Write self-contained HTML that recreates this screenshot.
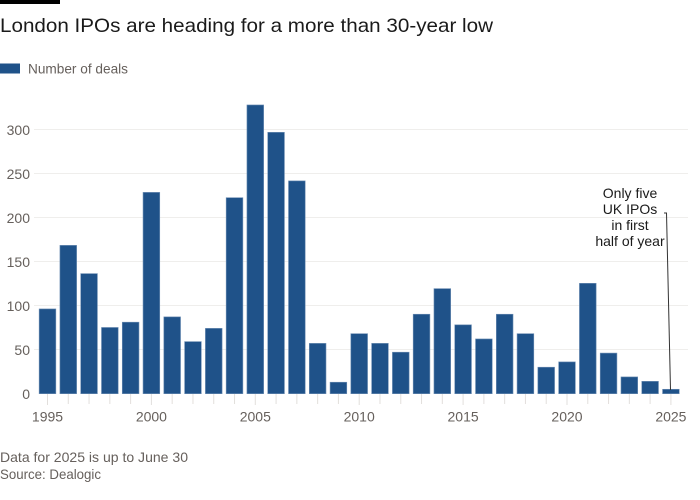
<!DOCTYPE html>
<html><head><meta charset="utf-8"><style>
html,body{margin:0;padding:0;background:#fff;}
svg{display:block;}
text{font-family:"Liberation Sans",sans-serif;}
</style></head><body>
<svg width="700" height="500" viewBox="0 0 700 500" xmlns="http://www.w3.org/2000/svg">
<rect x="0" y="0" width="60" height="4" fill="#000"/>
<text x="0" y="32" font-size="19.5" fill="#1a1a1a" textLength="493" lengthAdjust="spacingAndGlyphs">London IPOs are heading for a more than 30-year low</text>
<rect x="0" y="63.5" width="20" height="10" fill="#1f5289"/>
<text x="28" y="73.5" font-size="14" fill="#66605c" textLength="100" lengthAdjust="spacingAndGlyphs">Number of deals</text>
<g stroke="#efeeec" stroke-width="1">
<line x1="34" x2="688" y1="129.5" y2="129.5"/>
<line x1="34" x2="688" y1="173.5" y2="173.5"/>
<line x1="34" x2="688" y1="217.5" y2="217.5"/>
<line x1="34" x2="688" y1="261.5" y2="261.5"/>
<line x1="34" x2="688" y1="305.5" y2="305.5"/>
<line x1="34" x2="688" y1="349.5" y2="349.5"/>
</g>
<g font-size="14" fill="#66605c" text-anchor="end">
<text x="30" y="135">300</text>
<text x="30" y="179">250</text>
<text x="30" y="223">200</text>
<text x="30" y="267">150</text>
<text x="30" y="311">100</text>
<text x="30" y="355">50</text>
<text x="30" y="399">0</text>
</g>
<path stroke="#e2dfdc" stroke-width="1" fill="none" d="M47.5 394V405M68.28 394V404M89.06 394V404M109.84 394V404M130.62 394V404M151.4 394V405M172.18 394V404M192.96 394V404M213.74 394V404M234.52 394V404M255.3 394V405M276.08 394V404M296.86 394V404M317.64 394V404M338.42 394V404M359.2 394V405M379.98 394V404M400.76 394V404M421.54 394V404M442.32 394V404M463.1 394V405M483.88 394V404M504.66 394V404M525.44 394V404M546.22 394V404M567 394V405M587.78 394V404M608.56 394V404M629.34 394V404M650.12 394V404M670.9 394V405"/>
<g fill="#1f5289" stroke="#6f8fb4" stroke-width="0.6">
<rect x="39.15" y="308.93" width="16.7" height="84.77"/>
<rect x="59.93" y="245.36" width="16.7" height="148.34"/>
<rect x="80.71" y="273.61" width="16.7" height="120.09"/>
<rect x="101.49" y="327.47" width="16.7" height="66.23"/>
<rect x="122.27" y="322.18" width="16.7" height="71.52"/>
<rect x="143.05" y="192.38" width="16.7" height="201.32"/>
<rect x="163.83" y="316.88" width="16.7" height="76.82"/>
<rect x="184.61" y="341.60" width="16.7" height="52.10"/>
<rect x="205.39" y="328.36" width="16.7" height="65.34"/>
<rect x="226.17" y="197.67" width="16.7" height="196.03"/>
<rect x="246.95" y="104.96" width="16.7" height="288.74"/>
<rect x="267.73" y="132.33" width="16.7" height="261.37"/>
<rect x="288.51" y="180.90" width="16.7" height="212.80"/>
<rect x="309.29" y="343.37" width="16.7" height="50.33"/>
<rect x="330.07" y="382.22" width="16.7" height="11.48"/>
<rect x="350.85" y="333.66" width="16.7" height="60.04"/>
<rect x="371.63" y="343.37" width="16.7" height="50.33"/>
<rect x="392.41" y="352.20" width="16.7" height="41.50"/>
<rect x="413.19" y="314.23" width="16.7" height="79.47"/>
<rect x="433.97" y="288.62" width="16.7" height="105.08"/>
<rect x="454.75" y="324.83" width="16.7" height="68.87"/>
<rect x="475.53" y="338.95" width="16.7" height="54.75"/>
<rect x="496.31" y="314.23" width="16.7" height="79.47"/>
<rect x="517.09" y="333.66" width="16.7" height="60.04"/>
<rect x="537.87" y="367.21" width="16.7" height="26.49"/>
<rect x="558.65" y="361.91" width="16.7" height="31.79"/>
<rect x="579.43" y="283.32" width="16.7" height="110.38"/>
<rect x="600.21" y="353.08" width="16.7" height="40.62"/>
<rect x="620.99" y="376.92" width="16.7" height="16.78"/>
<rect x="641.77" y="381.34" width="16.7" height="12.36"/>
<rect x="662.55" y="389.28" width="16.7" height="4.42"/>
</g>
<g font-size="14" fill="#66605c" text-anchor="middle">
<text x="47.5" y="421.5">1995</text>
<text x="151.4" y="421.5">2000</text>
<text x="255.3" y="421.5">2005</text>
<text x="359.2" y="421.5">2010</text>
<text x="463.1" y="421.5">2015</text>
<text x="567" y="421.5">2020</text>
<text x="670.9" y="421.5">2025</text>
</g>
<g font-size="14" fill="#1a1a1a" text-anchor="middle">
<text x="630" y="198">Only five</text>
<text x="630" y="214">UK IPOs</text>
<text x="630" y="230">in first</text>
<text x="630" y="246">half of year</text>
</g>
<polyline points="664,213 666.5,213 670.5,390" fill="none" stroke="#333" stroke-width="1"/>
<text x="0" y="462" font-size="14" fill="#66605c" textLength="188" lengthAdjust="spacingAndGlyphs">Data for 2025 is up to June 30</text>
<text x="0" y="479" font-size="14" fill="#66605c" textLength="101" lengthAdjust="spacingAndGlyphs">Source: Dealogic</text>
</svg>
</body></html>
